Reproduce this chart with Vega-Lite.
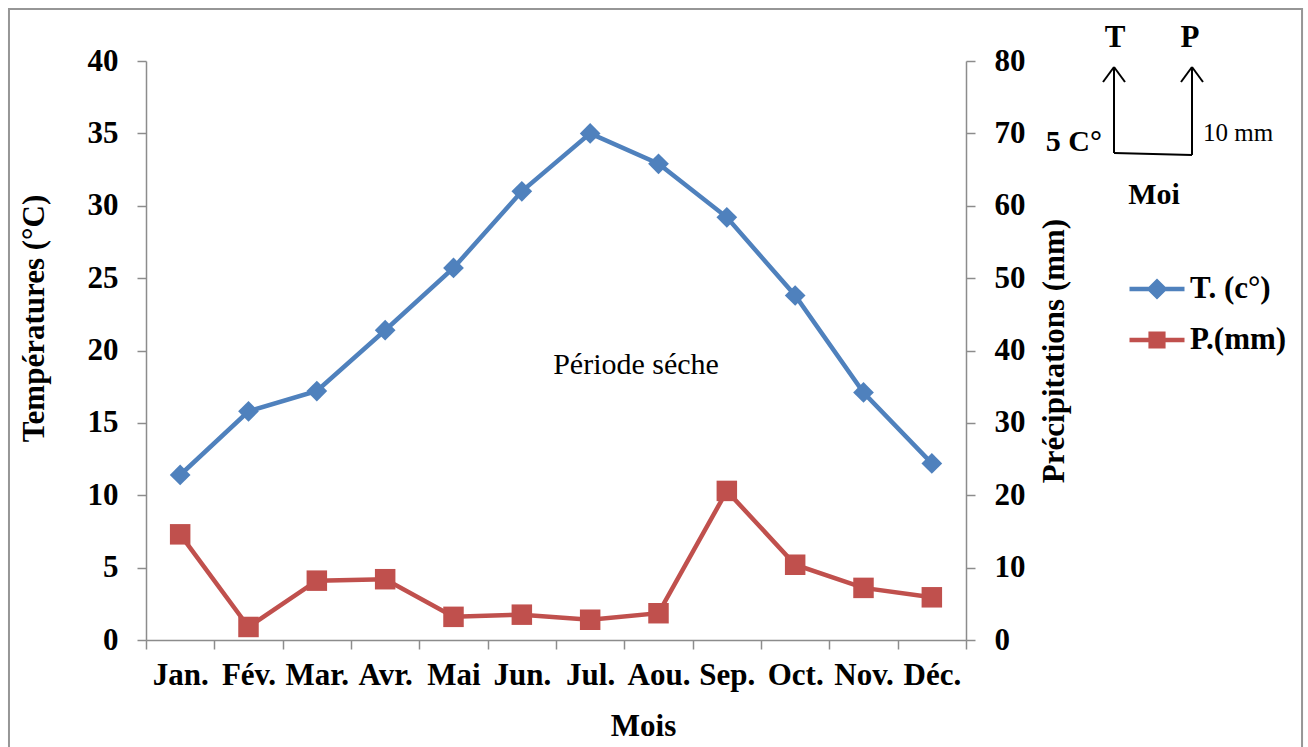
{
  "$schema": "https://vega.github.io/schema/vega-lite/v6.json",
  "width": 820,
  "height": 579,
  "autosize": {"type": "none"},
  "padding": {"left": 146, "top": 61, "right": 342, "bottom": 107},
  "background": "white",
  "config": {
    "view": {"stroke": null},
    "font": "Liberation Serif",
    "axis": {
      "labelFont": "Liberation Serif",
      "labelFontSize": 31,
      "labelFontWeight": "bold",
      "labelColor": "black",
      "titleFont": "Liberation Serif",
      "titleFontSize": 31,
      "titleFontWeight": "bold",
      "titleColor": "black",
      "domainColor": "#8c8c8c",
      "domainWidth": 1.5,
      "tickColor": "#8c8c8c",
      "tickWidth": 1.5,
      "tickSize": 9,
      "grid": false
    },
    "legend": {
      "labelFont": "Liberation Serif",
      "labelFontSize": 31,
      "labelFontWeight": "bold",
      "labelColor": "black"
    }
  },
  "data": {
    "values": [
      {"mois": "Jan.", "T": 11.4, "P": 14.6},
      {"mois": "Fév.", "T": 15.8, "P": 1.8},
      {"mois": "Mar.", "T": 17.2, "P": 8.2},
      {"mois": "Avr.", "T": 21.4, "P": 8.4},
      {"mois": "Mai", "T": 25.7, "P": 3.2},
      {"mois": "Jun.", "T": 31.0, "P": 3.5},
      {"mois": "Jul.", "T": 35.0, "P": 2.8},
      {"mois": "Aou.", "T": 32.9, "P": 3.7},
      {"mois": "Sep.", "T": 29.2, "P": 20.6},
      {"mois": "Oct.", "T": 23.8, "P": 10.4},
      {"mois": "Nov.", "T": 17.1, "P": 7.2},
      {"mois": "Déc.", "T": 12.2, "P": 5.9}
    ]
  },
  "layer": [
    {
      "layer": [
        {
          "mark": {"type": "line", "strokeWidth": 4.5, "point": {"shape": "diamond", "size": 430, "filled": true, "opacity": 1}},
          "encoding": {
            "x": {
              "field": "mois", "type": "nominal", "sort": null,
              "scale": {"type": "band", "paddingInner": 0, "paddingOuter": 0},
              "axis": {
                "title": "Mois", "labelAngle": 0, "tickBand": "extent", "labelOverlap": false,
                "labelPadding": 11, "titlePadding": 21, "titleX": 497,
                "encode": {"ticks": {"update": {"y": {"value": -9}, "y2": {"value": 9}}}}
              }
            },
            "y": {
              "field": "T", "type": "quantitative",
              "scale": {"domain": [0, 40], "nice": false, "zero": true},
              "axis": {
                "orient": "left", "title": "Températures (°C)",
                "values": [0, 5, 10, 15, 20, 25, 30, 35, 40],
                "labelPadding": 19, "titlePadding": 37, "titleY": 257,
                "encode": {"ticks": {"update": {"x": {"value": 9}, "x2": {"value": -9}}}}
              }
            },
            "color": {
              "datum": "T. (c°)",
              "scale": {"domain": ["T. (c°)", "P.(mm)"], "range": ["#4F81BD", "#C0504D"]},
              "legend": {
                "title": null,
                "orient": "none",
                "legendX": 981,
                "legendY": 198,
                "padding": 0,
                "symbolSize": 3025,
                "symbolStrokeWidth": 4,
                "rowPadding": 4,
                "labelOffset": 3,
                "encode": {
                  "symbols": {
                    "update": {
                      "shape": {"signal": "datum.value === 'T. (c°)' ? 'M-1,0H1M-0.27,0L0,-0.27L0.27,0L0,0.27Z' : 'M-1,0H1M-0.23,-0.23H0.23V0.23H-0.23Z'"},
                      "fill": {"signal": "datum.value === 'T. (c°)' ? '#4F81BD' : '#C0504D'"},
                      "stroke": {"signal": "datum.value === 'T. (c°)' ? '#4F81BD' : '#C0504D'"},
                      "strokeWidth": {"value": 4.5},
                      "fillOpacity": {"value": 1},
                      "opacity": {"value": 1}
                    }
                  }
                }
              }
            }
          }
        },
        {
          "mark": {"type": "line", "strokeWidth": 4.5, "point": {"shape": "square", "size": 420, "filled": true, "opacity": 1}},
          "encoding": {
            "x": {"field": "mois", "type": "nominal", "sort": null, "scale": {"type": "band", "paddingInner": 0, "paddingOuter": 0}},
            "y": {
              "field": "P", "type": "quantitative",
              "scale": {"domain": [0, 80], "nice": false, "zero": true},
              "axis": {
                "orient": "right", "title": "Précipitations (mm)",
                "values": [0, 10, 20, 30, 40, 50, 60, 70, 80],
                "labelPadding": 19, "titlePadding": 14, "titleAngle": 270, "titleBaseline": "top",
                "encode": {"ticks": {"update": {"x": {"value": -9}, "x2": {"value": 9}}}}
              }
            },
            "color": {"datum": "P.(mm)"}
          }
        }
      ],
      "resolve": {"scale": {"y": "independent"}}
    },
    {
      "layer": [
        {
          "data": {"values": [{}]},
          "mark": {"type": "rect", "fill": null, "stroke": "#969696", "strokeWidth": 2},
          "encoding": {
            "x": {"datum": -0.1671, "type": "quantitative", "scale": {"domain": [0, 1], "nice": false, "zero": false}, "axis": null},
            "x2": {"datum": 1.4098},
            "y": {"datum": 1.0898, "type": "quantitative", "scale": {"domain": [0, 1], "nice": false, "zero": false}, "axis": null},
            "y2": {"datum": -0.19}
          }
        },
        {
          "data": {"values": [{}]},
          "mark": {"type": "text", "text": "Période séche", "font": "Liberation Serif", "fontSize": 30, "fontWeight": "normal", "align": "center", "baseline": "middle", "color": "black"},
          "encoding": {
            "x": {"datum": 0.5976, "type": "quantitative", "scale": {"domain": [0, 1], "nice": false, "zero": false}, "axis": null},
            "y": {"datum": 0.475, "type": "quantitative", "scale": {"domain": [0, 1], "nice": false, "zero": false}, "axis": null}
          }
        },
        {
          "data": {"values": [{}]},
          "mark": {"type": "text", "text": "T", "font": "Liberation Serif", "fontSize": 31, "fontWeight": "bold", "align": "center", "baseline": "middle", "color": "black"},
          "encoding": {
            "x": {"datum": 1.1817, "type": "quantitative", "scale": {"domain": [0, 1], "nice": false, "zero": false}, "axis": null},
            "y": {"datum": 1.0397, "type": "quantitative", "scale": {"domain": [0, 1], "nice": false, "zero": false}, "axis": null}
          }
        },
        {
          "data": {"values": [{}]},
          "mark": {"type": "text", "text": "P", "font": "Liberation Serif", "fontSize": 31, "fontWeight": "bold", "align": "center", "baseline": "middle", "color": "black"},
          "encoding": {
            "x": {"datum": 1.2732, "type": "quantitative", "scale": {"domain": [0, 1], "nice": false, "zero": false}, "axis": null},
            "y": {"datum": 1.0397, "type": "quantitative", "scale": {"domain": [0, 1], "nice": false, "zero": false}, "axis": null}
          }
        },
        {
          "data": {"values": [{}]},
          "mark": {"type": "text", "text": "5 C°", "font": "Liberation Serif", "fontSize": 30, "fontWeight": "bold", "align": "right", "baseline": "middle", "color": "black"},
          "encoding": {
            "x": {"datum": 1.1659, "type": "quantitative", "scale": {"domain": [0, 1], "nice": false, "zero": false}, "axis": null},
            "y": {"datum": 0.8601, "type": "quantitative", "scale": {"domain": [0, 1], "nice": false, "zero": false}, "axis": null}
          }
        },
        {
          "data": {"values": [{}]},
          "mark": {"type": "text", "text": "10 mm", "font": "Liberation Serif", "fontSize": 25, "fontWeight": "normal", "align": "left", "baseline": "middle", "color": "black"},
          "encoding": {
            "x": {"datum": 1.289, "type": "quantitative", "scale": {"domain": [0, 1], "nice": false, "zero": false}, "axis": null},
            "y": {"datum": 0.8756, "type": "quantitative", "scale": {"domain": [0, 1], "nice": false, "zero": false}, "axis": null}
          }
        },
        {
          "data": {"values": [{}]},
          "mark": {"type": "text", "text": "Moi", "font": "Liberation Serif", "fontSize": 30, "fontWeight": "bold", "align": "center", "baseline": "middle", "color": "black"},
          "encoding": {
            "x": {"datum": 1.2293, "type": "quantitative", "scale": {"domain": [0, 1], "nice": false, "zero": false}, "axis": null},
            "y": {"datum": 0.7686, "type": "quantitative", "scale": {"domain": [0, 1], "nice": false, "zero": false}, "axis": null}
          }
        },
        {
          "data": {"values": [{}]},
          "mark": {"type": "rule", "color": "black", "strokeWidth": 2},
          "encoding": {
            "x": {"datum": 1.1805, "type": "quantitative", "scale": {"domain": [0, 1], "nice": false, "zero": false}, "axis": null},
            "y": {"datum": 0.9896, "type": "quantitative", "scale": {"domain": [0, 1], "nice": false, "zero": false}, "axis": null},
            "x2": {"datum": 1.1805},
            "y2": {"datum": 0.8411}
          }
        },
        {
          "data": {"values": [{}]},
          "mark": {"type": "rule", "color": "black", "strokeWidth": 2},
          "encoding": {
            "x": {"datum": 1.1805, "type": "quantitative", "scale": {"domain": [0, 1], "nice": false, "zero": false}, "axis": null},
            "y": {"datum": 0.8411, "type": "quantitative", "scale": {"domain": [0, 1], "nice": false, "zero": false}, "axis": null},
            "x2": {"datum": 1.2756},
            "y2": {"datum": 0.8377}
          }
        },
        {
          "data": {"values": [{}]},
          "mark": {"type": "rule", "color": "black", "strokeWidth": 2},
          "encoding": {
            "x": {"datum": 1.2756, "type": "quantitative", "scale": {"domain": [0, 1], "nice": false, "zero": false}, "axis": null},
            "y": {"datum": 0.9896, "type": "quantitative", "scale": {"domain": [0, 1], "nice": false, "zero": false}, "axis": null},
            "x2": {"datum": 1.2756},
            "y2": {"datum": 0.8377}
          }
        },
        {
          "data": {"values": [{}]},
          "mark": {"type": "rule", "color": "black", "strokeWidth": 2},
          "encoding": {
            "x": {"datum": 1.1671, "type": "quantitative", "scale": {"domain": [0, 1], "nice": false, "zero": false}, "axis": null},
            "y": {"datum": 0.9637, "type": "quantitative", "scale": {"domain": [0, 1], "nice": false, "zero": false}, "axis": null},
            "x2": {"datum": 1.1805},
            "y2": {"datum": 0.9896}
          }
        },
        {
          "data": {"values": [{}]},
          "mark": {"type": "rule", "color": "black", "strokeWidth": 2},
          "encoding": {
            "x": {"datum": 1.1939, "type": "quantitative", "scale": {"domain": [0, 1], "nice": false, "zero": false}, "axis": null},
            "y": {"datum": 0.9637, "type": "quantitative", "scale": {"domain": [0, 1], "nice": false, "zero": false}, "axis": null},
            "x2": {"datum": 1.1805},
            "y2": {"datum": 0.9896}
          }
        },
        {
          "data": {"values": [{}]},
          "mark": {"type": "rule", "color": "black", "strokeWidth": 2},
          "encoding": {
            "x": {"datum": 1.2622, "type": "quantitative", "scale": {"domain": [0, 1], "nice": false, "zero": false}, "axis": null},
            "y": {"datum": 0.9637, "type": "quantitative", "scale": {"domain": [0, 1], "nice": false, "zero": false}, "axis": null},
            "x2": {"datum": 1.2756},
            "y2": {"datum": 0.9896}
          }
        },
        {
          "data": {"values": [{}]},
          "mark": {"type": "rule", "color": "black", "strokeWidth": 2},
          "encoding": {
            "x": {"datum": 1.289, "type": "quantitative", "scale": {"domain": [0, 1], "nice": false, "zero": false}, "axis": null},
            "y": {"datum": 0.9637, "type": "quantitative", "scale": {"domain": [0, 1], "nice": false, "zero": false}, "axis": null},
            "x2": {"datum": 1.2756},
            "y2": {"datum": 0.9896}
          }
        }
      ]
    }
  ],
  "resolve": {"scale": {"x": "independent", "y": "independent"}}
}
